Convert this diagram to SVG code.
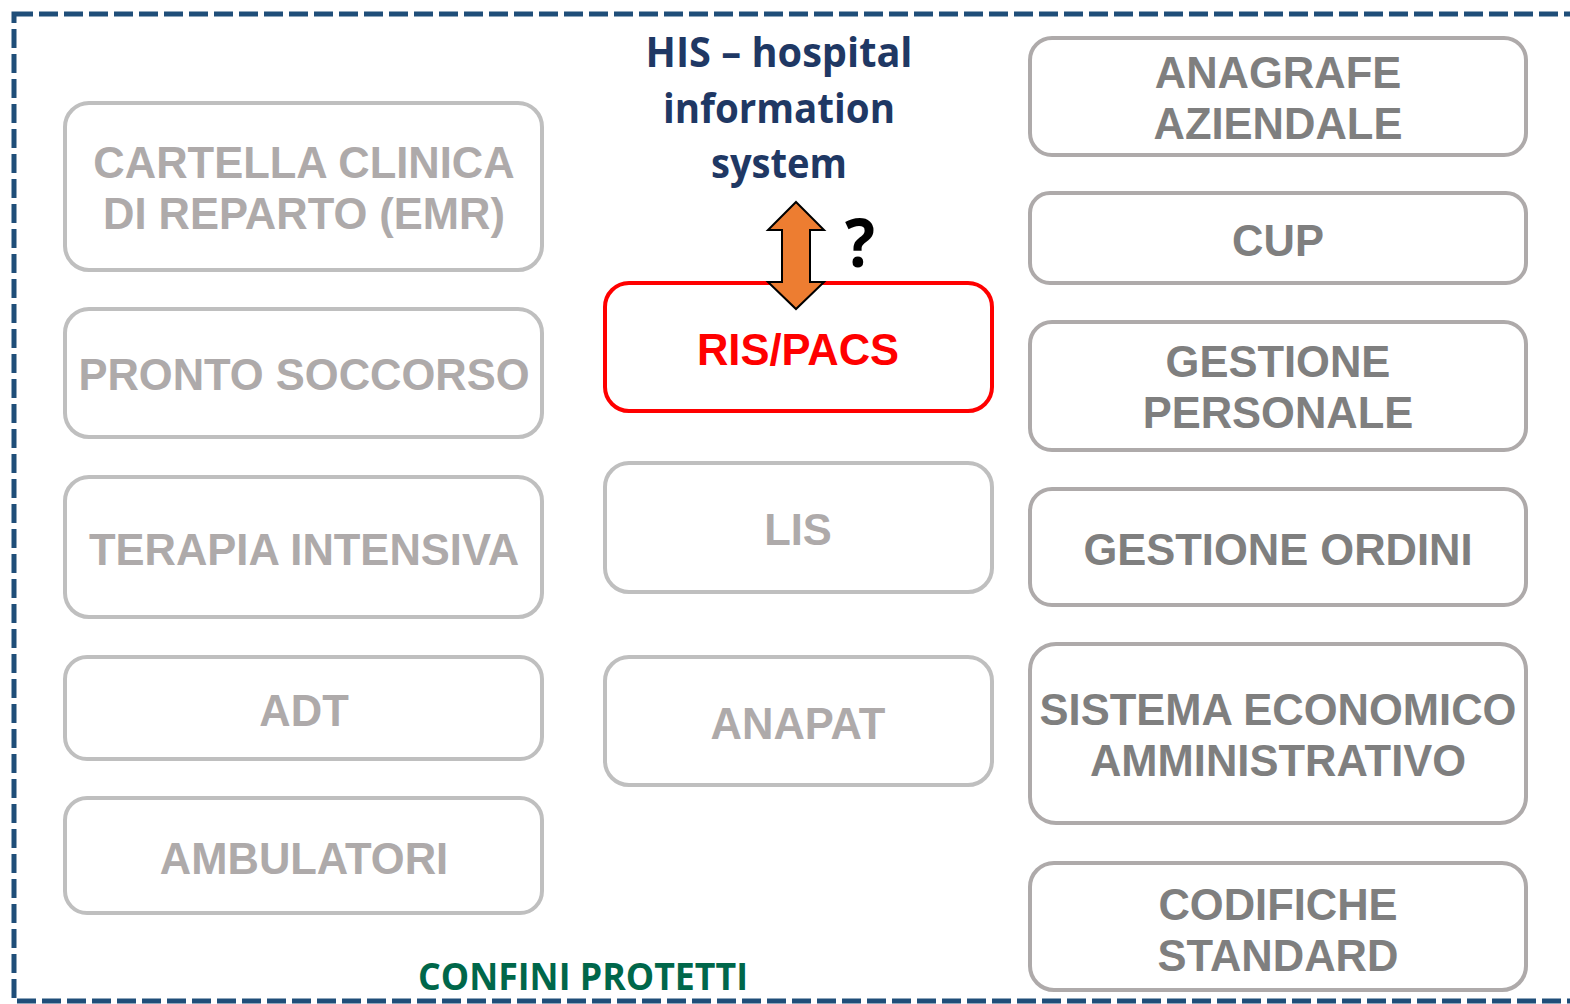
<svg xmlns="http://www.w3.org/2000/svg" width="1570" height="1004" viewBox="0 0 1570 1004">
<style>
.bl{fill:#fff;stroke:#BFBFBF;stroke-width:4}
.br{fill:#fff;stroke:#AEAAAA;stroke-width:4}
.tl{font-family:"Liberation Sans",Arial,sans-serif;font-weight:bold;font-size:43.5px;fill:#AEAAAA;text-anchor:middle}
.tr{font-family:"Liberation Sans",Arial,sans-serif;font-weight:bold;font-size:43.5px;fill:#7F7F7F;text-anchor:middle}
.cal{font-family:"Open Sans",Lato,sans-serif;font-weight:bold;text-anchor:middle}
</style>
<rect id="boundary" x="14" y="14" width="1580" height="987" fill="none" stroke="#1F4E79" stroke-width="5" stroke-dasharray="19 6"/>
<g id="n-cartella"><rect class="bl" x="65" y="103" width="477" height="167" rx="24"/><text class="tl" x="304" y="178">CARTELLA CLINICA</text><text class="tl" x="304" y="229">DI REPARTO (EMR)</text></g>
<g id="n-pronto"><rect class="bl" x="65" y="309" width="477" height="128" rx="24"/><text class="tl" x="304" y="390">PRONTO SOCCORSO</text></g>
<g id="n-terapia"><rect class="bl" x="65" y="477" width="477" height="140" rx="24"/><text class="tl" x="304" y="565">TERAPIA INTENSIVA</text></g>
<g id="n-adt"><rect class="bl" x="65" y="657" width="477" height="102" rx="22"/><text class="tl" x="304" y="726">ADT</text></g>
<g id="n-ambulatori"><rect class="bl" x="65" y="798" width="477" height="115" rx="22"/><text class="tl" x="304" y="874">AMBULATORI</text></g>
<g id="n-rispacs"><rect x="605" y="283" width="387" height="128" rx="24" fill="#fff" stroke="#FF0000" stroke-width="4"/><text class="tl" x="798" y="365" style="fill:#FF0000">RIS/PACS</text></g>
<g id="n-lis"><rect class="bl" x="605" y="463" width="387" height="129" rx="24"/><text class="tl" x="798" y="545">LIS</text></g>
<g id="n-anapat"><rect class="bl" x="605" y="657" width="387" height="128" rx="24"/><text class="tl" x="798" y="739">ANAPAT</text></g>
<g id="n-anagrafe"><rect class="br" x="1030" y="38" width="496" height="117" rx="22"/><text class="tr" x="1278" y="88">ANAGRAFE</text><text class="tr" x="1278" y="139">AZIENDALE</text></g>
<g id="n-cup"><rect class="br" x="1030" y="193" width="496" height="90" rx="20"/><text class="tr" x="1278" y="256">CUP</text></g>
<g id="n-personale"><rect class="br" x="1030" y="322" width="496" height="128" rx="22"/><text class="tr" x="1278" y="377">GESTIONE</text><text class="tr" x="1278" y="428">PERSONALE</text></g>
<g id="n-ordini"><rect class="br" x="1030" y="489" width="496" height="116" rx="22"/><text class="tr" x="1278" y="565">GESTIONE ORDINI</text></g>
<g id="n-sistema"><rect class="br" x="1030" y="644" width="496" height="179" rx="26"/><text class="tr" x="1278" y="725">SISTEMA ECONOMICO</text><text class="tr" x="1278" y="776">AMMINISTRATIVO</text></g>
<g id="n-codifiche"><rect class="br" x="1030" y="863" width="496" height="127" rx="24"/><text class="tr" x="1278" y="920">CODIFICHE</text><text class="tr" x="1278" y="971">STANDARD</text></g>
<g id="n-his">
<text class="cal" x="779" y="67" font-size="42" fill="#1F3864" textLength="267" lengthAdjust="spacingAndGlyphs">HIS – hospital</text>
<text class="cal" x="779" y="123" font-size="42" fill="#1F3864" textLength="232" lengthAdjust="spacingAndGlyphs">information</text>
<text class="cal" x="779" y="178" font-size="42" fill="#1F3864" textLength="136" lengthAdjust="spacingAndGlyphs">system</text>
</g>
<g id="connectors">
<path d="M796,202 L824,230 L810,230 L810,282 L824,282 L796,309 L768,282 L782,282 L782,230 L768,230 Z" fill="#ED7D31" stroke="#000" stroke-width="2" stroke-linejoin="miter"/>
<text class="cal" x="860" y="267" font-size="66" fill="#000" textLength="30" lengthAdjust="spacingAndGlyphs">?</text>
</g>
<text id="confini" class="cal" x="583" y="990" font-size="37" fill="#00674A" textLength="330" lengthAdjust="spacingAndGlyphs">CONFINI PROTETTI</text>
</svg>
